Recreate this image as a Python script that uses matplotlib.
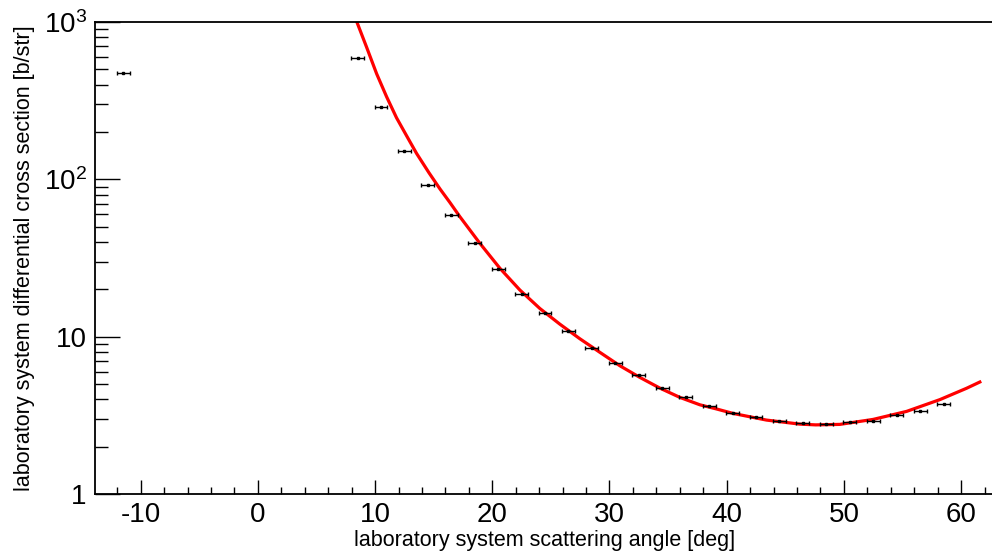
import numpy as np
import matplotlib
matplotlib.use("Agg")
import matplotlib.pyplot as plt
from matplotlib.ticker import MultipleLocator, FixedLocator, FixedFormatter, NullFormatter

# measured cross section (lab angle in deg, value in b/str)
ANGLE = [-11.5, 8.5, 10.5, 12.5, 14.5, 16.5, 18.5, 20.5, 22.5, 24.5, 26.5, 28.5, 30.5,
         32.5, 34.5, 36.5, 38.5, 40.5, 42.5, 44.5, 46.5, 48.5, 50.5, 52.5, 54.5, 56.5, 58.5]
XSEC = [476, 588, 287, 152, 91.6, 59.0, 39.2, 26.8, 18.6, 14.1, 10.8, 8.49, 6.76,
        5.70, 4.69, 4.11, 3.62, 3.25, 3.07, 2.92, 2.84, 2.77, 2.88, 2.89, 3.17, 3.38, 3.73]
ANGLE_ERR = 0.55

# fitted curve
FIT_ANGLE = [8.2, 9.27, 10.13, 10.98, 11.83, 12.69, 13.54, 14.6, 15.53, 16.38, 17.24,
             18.94, 20.65, 22.35, 24.06, 25.77, 27.47, 29.18, 30.89, 32.59, 34.30,
             36.01, 37.71, 39.14, 40.56, 43.40, 46.25, 47.6, 49.66, 52.50, 55.35,
             58.19, 60.47, 61.6]
FIT_XSEC = [1115, 693, 469, 335, 246, 189, 146, 110, 87, 71.3, 57.8,
            39.2, 27.2, 19.8, 15.1, 12.0, 9.7, 7.95, 6.53, 5.51, 4.71,
            4.11, 3.69, 3.47, 3.25, 2.95, 2.78, 2.75, 2.77, 2.98, 3.35,
            3.98, 4.70, 5.15]

Y_TICKS = [1, 10, 100, 1000]
Y_TICK_LABELS = ["1", "10", "$10^{2}$", "$10^{3}$"]

plt.rcParams["font.family"] = ["Liberation Sans", "DejaVu Sans"]
plt.rcParams["mathtext.fontset"] = "custom"
plt.rcParams["mathtext.rm"] = "Liberation Sans"
plt.rcParams["mathtext.it"] = "Liberation Sans"
plt.rcParams["axes.unicode_minus"] = False

fig = plt.figure(figsize=(9.92, 5.54), dpi=100)
ax = fig.add_axes([95 / 992, 60 / 554, 898.9 / 992, 472 / 554])

ax.plot(FIT_ANGLE, FIT_XSEC, color="#ff0000", lw=2.3, zorder=2,
        solid_joinstyle="round")
ax.errorbar(ANGLE, XSEC, xerr=ANGLE_ERR, fmt="s", ms=1.6, color="black",
            ecolor="black", elinewidth=1.0, capsize=1.5, capthick=1.0, zorder=3)

ax.set_yscale("log")
ax.set_xlim(-13.9, 62.8)
ax.set_ylim(1, 1000)

ax.xaxis.set_major_locator(MultipleLocator(10))
ax.xaxis.set_minor_locator(MultipleLocator(2))
ax.yaxis.set_major_locator(FixedLocator(Y_TICKS))
ax.yaxis.set_major_formatter(FixedFormatter(Y_TICK_LABELS))
minor = [m * 10 ** d for d in range(3) for m in range(2, 10)]
ax.yaxis.set_minor_locator(FixedLocator(minor))
ax.yaxis.set_minor_formatter(NullFormatter())

ax.tick_params(axis="x", which="major", direction="in", length=10, width=1.0,
               top=False, pad=6, labelsize=20)
ax.tick_params(axis="x", which="minor", direction="in", length=5, width=1.0, top=False)
ax.tick_params(axis="y", which="major", direction="in", length=18, width=1.0,
               right=False, pad=6, labelsize=20)
ax.tick_params(axis="y", which="minor", direction="in", length=9.5, width=1.0, right=False)

for sp in ax.spines.values():
    sp.set_linewidth(1.3)

ax.set_xlabel("laboratory system scattering angle [deg]", fontsize=15.5, labelpad=1)
ax.set_ylabel("laboratory system differential cross section [b/str]", fontsize=15.5,
              labelpad=6)

fig.savefig("out.png", dpi=100)
